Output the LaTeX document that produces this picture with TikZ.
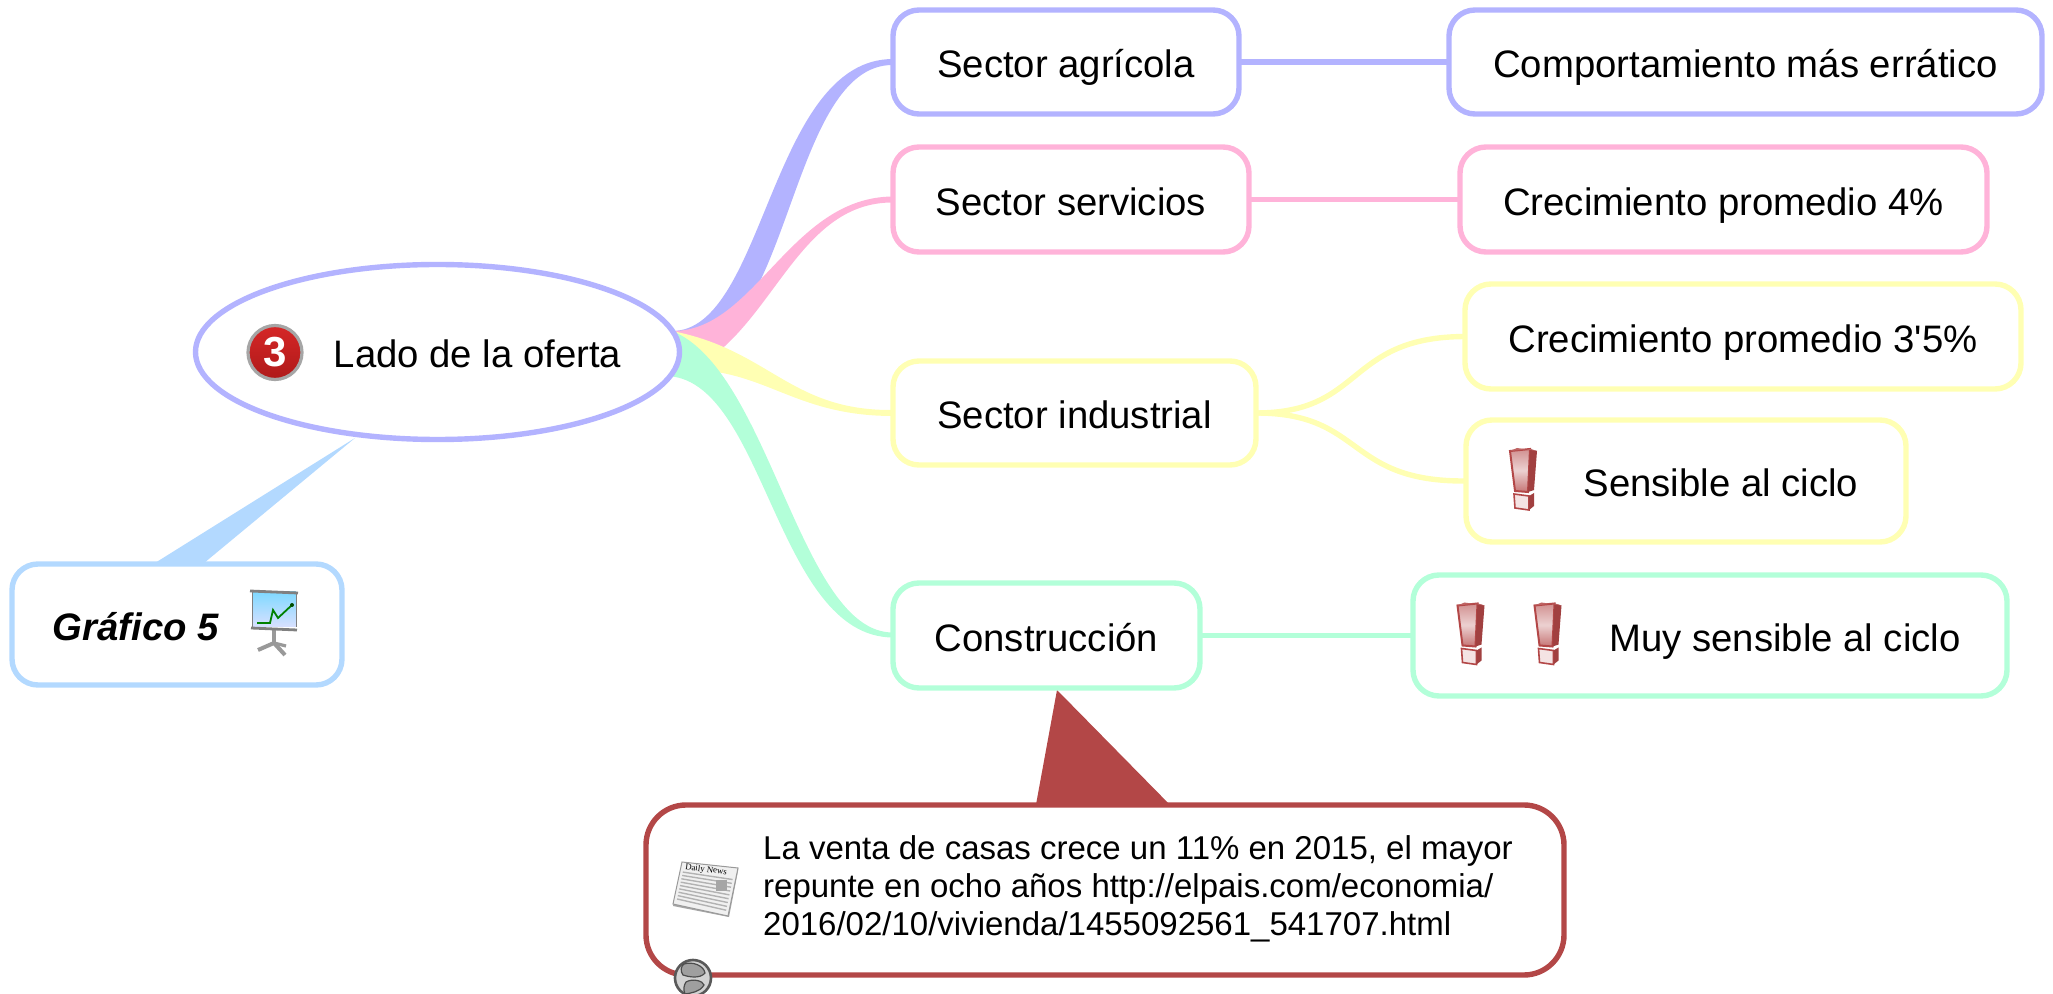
\documentclass[tikz,border=0pt]{standalone}
\usepackage{fontspec}
\setmainfont{Liberation Sans}
\newfontfamily\recta{Liberation Sans}
\newfontfamily\diario{Liberation Serif}
\usetikzlibrary{calc,shapes.geometric,backgrounds}

\definecolor{azul}{HTML}{B3B3FF}
\definecolor{rosa}{HTML}{FFB3D9}
\definecolor{amarillo}{HTML}{FFFFB3}
\definecolor{verde}{HTML}{B3FFD9}
\definecolor{celeste}{HTML}{B3D9FF}
\definecolor{rojo}{HTML}{B34747}

\tikzset{
    caja/.style={draw=#1, fill=white, line width=2.7pt, rounded corners=13pt,
        outer sep=0pt, inner sep=0pt, font=\fontsize{19.15}{22}\selectfont},
    etiqueta/.style={caja=#1, text height=16pt, text depth=0pt},
    rama/.style={draw=#1, line width=2.7pt},
    aviso/.pic={
        \fill[white!85!rojo] (-9,14) -- (6,16) -- (6,30) -- (-8,28) -- cycle;
        \draw[rojo, line width=.8pt] (-9,14) -- (6,16) -- (6,30) -- (-8,28) -- cycle;
        \fill[rojo!90!black] (6,16) -- (11,13) -- (11,26) -- (6,30) -- cycle;
        \shade[top color=rojo!60, bottom color=rojo!75, middle color=rojo!25, draw=rojo, line width=1pt]
            (-13,-29) -- (7,-31) -- (5,12) -- (-8,11) -- cycle;
        \fill[rojo!90!black] (7,-31) -- (14,-29) -- (11,10) -- (5,12) -- cycle;
        \fill[rojo!85] (-13,-29) -- (-6,-32) -- (14,-29) -- (7,-31) -- cycle;
    },
    pizarra/.pic={
        \draw[gray!80, line width=1.8pt] (0,6) -- (0,20);
        \draw[gray!80, line width=2pt] (-16,26) -- (0,19) -- (11,31);
        \draw[gray!80, line width=1.6pt] (0,19) -- (12,22);
        \shade[top color=blue!30!cyan!50, bottom color=cyan!20!blue!15] (-22,-32) rectangle (22,3);
        \draw[gray, line width=1.4pt] (-24,-33) -- (24,-31);
        \draw[gray, line width=1.4pt] (-23,4) -- (23,6);
        \draw[gray, line width=.5pt] (-22,-32) -- (-22,3) (22,-32) -- (22,3);
        \draw[green!50!black, line width=.9pt] (-17,-1) -- (-4,-1) -- (-1,-14) -- (4,-6) -- (18,-19);
        \fill[green!30!black] (18,-19) circle (2);
    },
    periodico/.pic={
        \coordinate (p1) at (0,0);
        \coordinate (p2) at (56,6);
        \coordinate (p3) at (46,54);
        \coordinate (p4) at (-9,42);
        \fill[gray!70] (p1) -- (p2) -- ++(0,3) -- ($(p3)+(1,1)$) -- ($(p4)+(0,2)$) -- cycle;
        \draw[gray!80, fill=gray!12, line width=.5pt] (p1) -- (p2) -- (p3) -- (p4) -- cycle;
        \foreach \t in {.24,.32,.4,.48,.56,.64,.72,.8,.88}{
            \draw[gray!60, line width=.7pt] ($(p1)!\t!(p4)+(3,0)$) -- ($(p2)!\t!(p3)+(-3,0)$);
        }
        \fill[gray!70] ($(p1)!.3!(p4)+(37,5)$) rectangle ($(p1)!.55!(p4)+(50,6)$);
        \node[rotate=-7, font=\diario\fontsize{4.4}{5}\selectfont, inner sep=0pt] (cabecera) at (24,8) {Daily News};
    },
    mundo/.pic={
        \draw[gray!70!black, fill=gray!35, line width=1.3pt] (0,0) circle (18);
        \draw[gray!60!black, fill=gray!75, line width=.6pt] (-9,-14) .. controls (0,-17) and (11,-12) .. (12,-5)
            .. controls (7,1) and (-4,-1) .. (-10,-3) .. controls (-13,-7) and (-12,-12) .. (-9,-14);
        \draw[gray!60!black, fill=gray!75, line width=.6pt] (-7,4) .. controls (0,0) and (10,3) .. (11,7)
            .. controls (7,14) and (-2,15) .. (-8,16) .. controls (-10,11) and (-9,7) .. (-7,4);
    }
}

\begin{document}
\begin{tikzpicture}[x=0.5pt, y=-0.5pt]
        \useasboundingbox (0,0) rectangle (2053,994);

        \coordinate (raiz) at (672,331);

        \node[etiqueta=azul, ellipse, minimum width=242pt, minimum height=87.5pt] (oferta) at (437.5,352) {\makebox[0pt]{\hspace{40pt}Lado de la oferta}};
        \node[etiqueta=celeste, minimum width=165pt, minimum height=60.5pt, font=\fontsize{19.15}{22}\selectfont\bfseries\itshape] (grafico) at (177,624.5) {Gráfico 5\hspace{41pt}\null};

        \node[etiqueta=azul, minimum width=173pt, minimum height=52pt] (agricola) at (1066,62) {Sector agrícola};
        \node[etiqueta=rosa, minimum width=178pt, minimum height=52.5pt] (servicios) at (1071,199.5) {Sector servicios};
        \node[etiqueta=amarillo, minimum width=181.5pt, minimum height=52pt] (industrial) at (1074.5,413) {Sector industrial};
        \node[etiqueta=verde, minimum width=153.5pt, minimum height=52.5pt] (construccion) at (1046.5,635.5) {Construcción};

        \node[etiqueta=azul, minimum width=296.5pt, minimum height=52pt] (erratico) at (1745.5,62) {Comportamiento más errático};
        \node[etiqueta=rosa, minimum width=263.5pt, minimum height=52.5pt] (promedioA) at (1723.5,199.5) {Crecimiento promedio 4\%};
        \node[etiqueta=amarillo, minimum width=278pt, minimum height=52.5pt] (promedioB) at (1743,336.5) {Crecimiento promedio 3{\recta'}5\%};
        \node[etiqueta=amarillo, minimum width=220pt, minimum height=61pt] (sensible) at (1686,481) {\hspace{35pt}Sensible al ciclo};
        \node[etiqueta=verde, minimum width=297pt, minimum height=60.5pt] (muysensible) at (1710,635.5) {\hspace{75pt}Muy sensible al ciclo};

        \node[caja=rojo, minimum width=459pt, minimum height=85pt, rounded corners=20pt, font=\fontsize{16.5}{19}\selectfont] (noticia) at (1105,890) {\hspace{33pt}\begin{tabular}{@{}l@{}}
            La venta de casas crece un 11\% en 2015, el mayor\\
            repunte en ocho años http://elpais.com/economia/\\
            2016/02/10/vivienda/1455092561\_541707.html
        \end{tabular}};

        % behind the nodes
        \begin{scope}[on background layer]
            \fill[azul] (raiz) .. controls (765,331) and (770,59) .. ($(agricola.west)+(0,-3)$)
                -- ($(agricola.west)+(0,3)$) .. controls (790,64) and (790,345) .. (690,345) -- cycle;
            \fill[rosa] (raiz) .. controls (755,332) and (790,197) .. ($(servicios.west)+(0,-3)$)
                -- ($(servicios.west)+(0,3)$) .. controls (800,202) and (775,320) .. (700,365) -- cycle;
            \fill[amarillo] (raiz) .. controls (770,350) and (790,411) .. ($(industrial.west)+(0,-3)$)
                -- ($(industrial.west)+(0,3)$) .. controls (800,416) and (770,375) .. (700,370) -- cycle;
            \fill[verde] (raiz) .. controls (770,370) and (800,633) .. ($(construccion.west)+(0,-3)$)
                -- ($(construccion.west)+(0,2)$) .. controls (775,637) and (765,376) .. (665,376) -- cycle;

            \draw[rama=azul] (agricola.east) -- (erratico.west);
            \draw[rama=rosa] (servicios.east) -- (promedioA.west);
            \draw[rama=verde] (construccion.east) -- (muysensible.west);
            \draw[rama=amarillo] (industrial.east) .. controls (1365,413) and (1345,337) .. (promedioB.west);
            \draw[rama=amarillo] (industrial.east) .. controls (1365,413) and (1345,482) .. (sensible.west);

            \fill[celeste] (355,438) -- (198,568) -- (147,568) -- cycle;
            \fill[rojo] (1057,690) -- (1175,810) -- (1035,810) -- cycle;
        \end{scope}

        \node[circle, draw=gray!70, line width=1.6pt, top color=red!45!rojo, bottom color=red!65!black!90, minimum size=27pt, inner sep=0pt,
            text=white, font=\fontsize{21}{22}\selectfont\bfseries] (tres) at (275,352.5) {3};

        \pic at (274,624) {pizarra};
        \pic at (682,862) {periodico};
        \pic at (693,978) {mundo};
        \pic at (1523,480) {aviso};
        \foreach \x in {1470.5,1547.5}{
                \pic at (\x,634.5) {aviso};
            }

\end{tikzpicture}
\end{document}
